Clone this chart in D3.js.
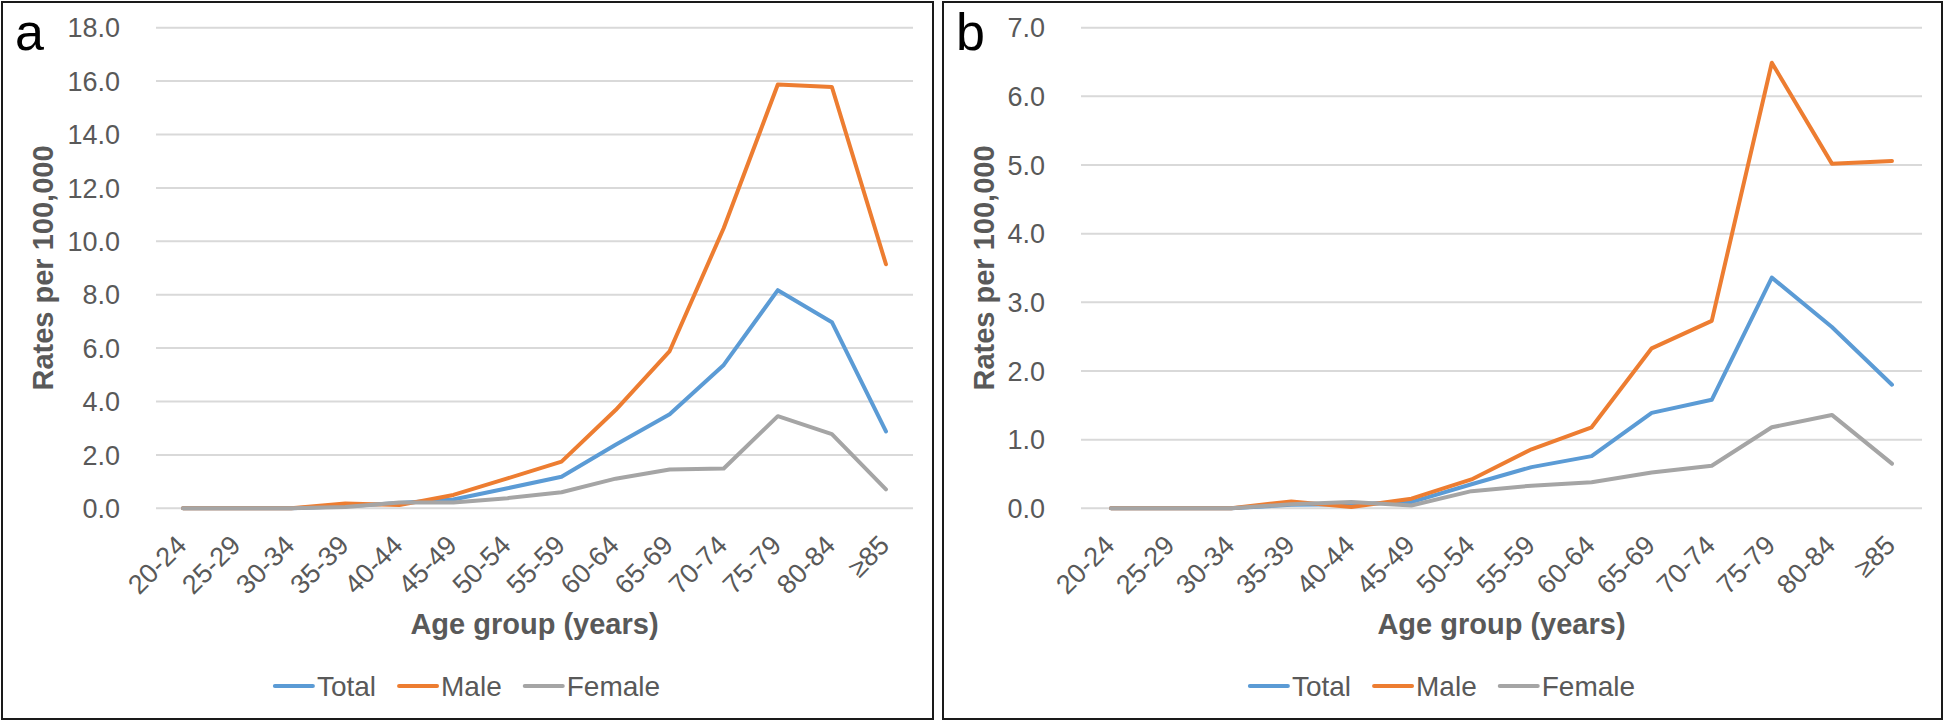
<!DOCTYPE html>
<html>
<head>
<meta charset="utf-8">
<script src="https://cdn.jsdelivr.net/npm/d3@7"></script>
<style>
  html, body { margin: 0; padding: 0; background: #fff; }
  svg { display: block; font-family: "Liberation Sans", Arial, sans-serif; }
</style>
</head>
<body>
<div id="chart"></div>
<script>
// age groups on the x axis
var ageGroups = ["20-24", "25-29", "30-34", "35-39", "40-44", "45-49", "50-54",
                 "55-59", "60-64", "65-69", "70-74", "75-79", "80-84", "\u226585"];

// panel a rates per 100,000
var totalA  = [0, 0, 0, 0.08, 0.20, 0.33, 0.75, 1.18, 2.38, 3.52, 5.37, 8.17, 6.97, 2.88];
var maleA   = [0, 0, 0, 0.18, 0.12, 0.50, 1.12, 1.75, 3.68, 5.89, 10.50, 15.87, 15.78, 9.14];
var femaleA = [0, 0, 0, 0.05, 0.22, 0.22, 0.38, 0.60, 1.11, 1.45, 1.49, 3.45, 2.78, 0.71];

// panel b rates per 100,000
var totalB  = [0, 0, 0, 0.05, 0.06, 0.09, 0.35, 0.60, 0.76, 1.39, 1.58, 3.36, 2.64, 1.80];
var maleB   = [0, 0, 0, 0.10, 0.02, 0.14, 0.42, 0.86, 1.18, 2.33, 2.73, 6.49, 5.02, 5.06];
var femaleB = [0, 0, 0, 0.06, 0.09, 0.04, 0.25, 0.33, 0.38, 0.52, 0.62, 1.18, 1.36, 0.65];

var ticksA = [0, 2, 4, 6, 8, 10, 12, 14, 16, 18];
var ticksB = [0, 1, 2, 3, 4, 5, 6, 7];

var seriesNames = ["Total", "Male", "Female"];
var colors = {Total: "#5b9bd5", Male: "#ed7d31", Female: "#a5a5a5"};
var textColor = "#595959";

var W = 1946, H = 723;

var svg = d3.select("#chart").append("svg")
    .attr("width", W)
    .attr("height", H);

// #####################################################
// Draw one panel
//
function draw_panel (p) {
  var g = svg.append("g");

  // panel frame
  g.append("rect")
      .attr("x", p.left)
      .attr("y", 2)
      .attr("width", p.right - p.left)
      .attr("height", 717)
      .style("fill", "#ffffff")
      .style("stroke", "#1a1a1a")
      .attr("stroke-width", 2);

  var x = d3.scaleBand().domain(ageGroups).range([p.plotLeft, p.plotRight]);
  var y = d3.scaleLinear().domain([0, p.ticks[p.ticks.length - 1]]).range([508.3, 27.7]);

  // gridlines
  g.selectAll(".grid")
      .data(p.ticks)
      .enter().append("line")
        .attr("x1", p.plotLeft)
        .attr("x2", p.plotRight)
        .attr("y1", function(d) { return y(d); })
        .attr("y2", function(d) { return y(d); })
        .style("stroke", "#d9d9d9")
        .attr("stroke-width", 2);

  // y tick labels
  g.selectAll(".ytick")
      .data(p.ticks)
      .enter().append("text")
        .attr("x", p.plotLeft - 36)
        .attr("y", function(d) { return y(d); })
        .attr("dy", "0.36em")
        .style("text-anchor", "end")
        .style("font-size", "27px")
        .style("fill", textColor)
        .text(function(d) { return d3.format(".1f")(d); });

  // x tick labels, rotated
  g.selectAll(".xtick")
      .data(ageGroups)
      .enter().append("text")
        .attr("transform", function(d) {
          return "translate(" + (x(d) + x.bandwidth() / 2 + 5) + ",547) rotate(-45)";
        })
        .style("text-anchor", "end")
        .style("font-size", "27px")
        .style("fill", textColor)
        .text(function(d) { return d; });

  // lines
  var line = d3.line()
      .x(function(d, i) { return x(ageGroups[i]) + x.bandwidth() / 2; })
      .y(function(d) { return y(d); });

  seriesNames.forEach(function(name) {
    g.append("path")
        .datum(p.data[name])
        .attr("d", line)
        .style("fill", "none")
        .style("stroke", colors[name])
        .attr("stroke-width", 4)
        .attr("stroke-linejoin", "round")
        .attr("stroke-linecap", "round");
  });

  // axis titles
  g.append("text")
      .attr("x", (p.plotLeft + p.plotRight) / 2)
      .attr("y", 634)
      .style("text-anchor", "middle")
      .style("font-size", "29px")
      .style("font-weight", "bold")
      .style("fill", textColor)
      .text("Age group (years)");

  g.append("text")
      .attr("transform", "translate(" + (p.left + 51) + "," + 268 + ") rotate(-90)")
      .style("text-anchor", "middle")
      .style("font-size", "29px")
      .style("font-weight", "bold")
      .style("fill", textColor)
      .text("Rates per 100,000");

  // panel letter
  g.append("text")
      .attr("x", p.left + 13)
      .attr("y", 50)
      .style("font-size", "52px")
      .style("fill", "#000000")
      .text(p.letter);

  // legend, centred on the panel
  var leg = g.append("g");
  var cx = 0;
  seriesNames.forEach(function(name, i) {
    if (i > 0) cx += 23;
    leg.append("line")
        .attr("x1", cx).attr("x2", cx + 38)
        .attr("y1", 686).attr("y2", 686)
        .style("stroke", colors[name])
        .attr("stroke-width", 4)
        .attr("stroke-linecap", "round");
    var t = leg.append("text")
        .attr("x", cx + 42)
        .attr("y", 696)
        .style("font-size", "28px")
        .style("fill", textColor)
        .text(name);
    cx += 42 + t.node().getComputedTextLength();
  });
  leg.attr("transform", "translate(" + ((p.left + p.right) / 2 - cx / 2) + ",0)");
}

draw_panel({letter: "a", left: 2, right: 933, plotLeft: 156, plotRight: 913,
            ticks: ticksA, data: {Total: totalA, Male: maleA, Female: femaleA}});
draw_panel({letter: "b", left: 943, right: 1942, plotLeft: 1081, plotRight: 1922,
            ticks: ticksB, data: {Total: totalB, Male: maleB, Female: femaleB}});
</script>
</body>
</html>
